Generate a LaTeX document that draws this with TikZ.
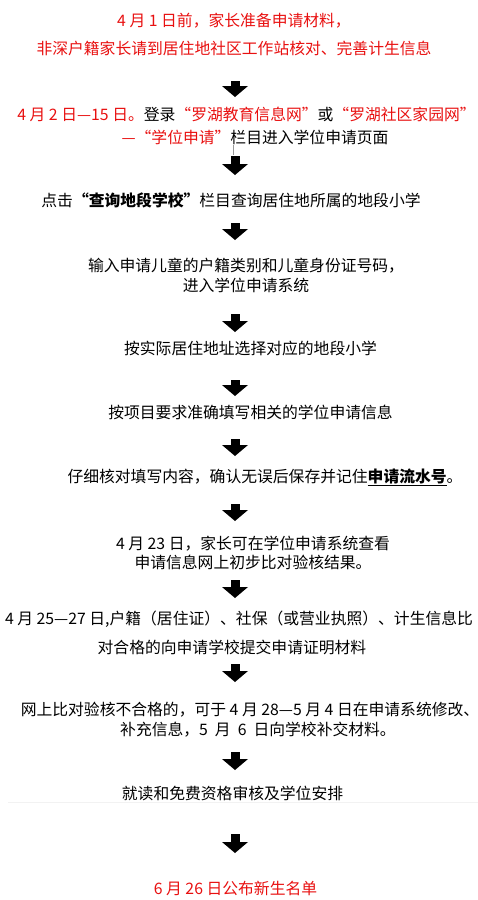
\documentclass[tikz,border=0pt]{standalone}
\usepackage{fontspec}
\setmainfont{Noto Sans CJK SC}
\usetikzlibrary{arrows.meta}
\definecolor{datered}{RGB}{232,16,16}
\tikzstyle{stepbox} = [inner sep=0pt, align=center, font=\fontsize{15.8}{20}\selectfont]
\tikzstyle{arrow} = [line width=9pt, -{Triangle[width=26pt, length=11pt, line width=0pt]}]
\newcommand{\hl}[1]{\textcolor{datered}{#1}}

\begin{document}
\begin{tikzpicture}[x=1pt, y=1pt, node distance=75pt]
      \useasboundingbox (0,0) rectangle (478,-900);
      \coordinate (axis) at (235,0);

      \node (s1) [stepbox, text=datered] at (234,-34) {4 月 1 日前，家长准备申请材料，\\[8pt]非深户籍家长请到居住地社区工作站核对、完善计生信息};
      \node (s2) [stepbox, below of=s1, yshift=-16.5pt, xshift=12.5pt] {\hl{4 月 2 日—15 日。}登录\hl{“罗湖教育信息网”}或\hl{“罗湖社区家园网”}\\[3pt]\hspace*{17pt}\hl{—“学位申请”}栏目进入学位申请页面};
      \node (s3) [stepbox, below of=s2, yshift=0.5pt, xshift=-15.5pt] {点击\textbf{“查询地段学校”}栏目查询居住地所属的地段小学};
      \node (s4) [stepbox, below of=s3, xshift=15pt] {输入申请儿童的户籍类别和儿童身份证号码，\\进入学位申请系统};
      \node (s5) [stepbox, below of=s4, yshift=2pt, xshift=4.5pt] {按实际居住地址选择对应的地段小学};
      \node (s6) [stepbox, below of=s5, yshift=11pt] {按项目要求准确填写相关的学位申请信息};
      \node (s7) [stepbox, below of=s6, yshift=10pt, xshift=14.5pt] {仔细核对填写内容，确认无误后保存并记住\underline{\textbf{申请流水号}}。};
      \node (s8) [stepbox, below of=s7, yshift=-0.5pt, xshift=-12pt] {4 月 23 日，家长可在学位申请系统查看\\[-1pt]申请信息网上初步比对验核结果。};
      \node (s9) [stepbox, below of=s8, yshift=-5pt, xshift=-14pt] {4 月 25—27 日,户籍（居住证）、社保（或营业执照）、计生信息比\\[9pt]对合格的向申请学校提交申请证明材料\kern14pt};
      \node (s10) [stepbox, below of=s9, yshift=-12.5pt, xshift=11pt] {网上比对验核不合格的，可于 4 月 28—5 月 4 日在申请系统修改、\\\hspace*{16pt}补充信息，5\hspace{7pt}月\hspace{7pt}6\hspace{7pt}日向学校补交材料。};
      \node (s11) [stepbox, below of=s10, yshift=2pt, xshift=-17.5pt] {就读和免费资格审核及学位安排};
      \node (s12) [stepbox, text=datered, below of=s11, yshift=-20pt, xshift=3pt] {6 月 26 日公布新生名单};

      % stray marks
      \coordinate (tick) at (233,-145);
      \draw [black!40, line width=1pt] (tick) -- ++(0,-10);
      \coordinate (rule) at (8,-802);
      \draw [black!5, line width=1pt] (rule) -- ++(470,0);

      % Arrows
      \draw [arrow, shorten <=47pt, shorten >=28.5pt] (s1.center -| axis) -- (s2.center -| axis);
      \draw [arrow, shorten <=30.5pt, shorten >=25pt] (s2.center -| axis) -- (s3.center -| axis);
      \draw [arrow, shorten <=23pt, shorten >=35pt] (s3.center -| axis) -- (s4.center -| axis);
      \draw [arrow, shorten <=39pt, shorten >=16pt] (s4.center -| axis) -- (s5.center -| axis);
      \draw [arrow, shorten <=32pt, shorten >=16pt] (s5.center -| axis) -- (s6.center -| axis);
      \draw [arrow, shorten <=27pt, shorten >=21pt] (s6.center -| axis) -- (s7.center -| axis);
      \draw [arrow, shorten <=27pt, shorten >=31.5pt] (s7.center -| axis) -- (s8.center -| axis);
      \draw [arrow, shorten <=27.5pt, shorten >=34.5pt] (s8.center -| axis) -- (s9.center -| axis);
      \draw [arrow, shorten <=31.5pt, shorten >=38pt] (s9.center -| axis) -- (s10.center -| axis);
      \draw [arrow, shorten <=32pt, shorten >=23pt] (s10.center -| axis) -- (s11.center -| axis);
      \draw [arrow, shorten <=41pt, shorten >=35pt] (s11.center -| axis) -- (s12.center -| axis);

\end{tikzpicture}
\end{document}
